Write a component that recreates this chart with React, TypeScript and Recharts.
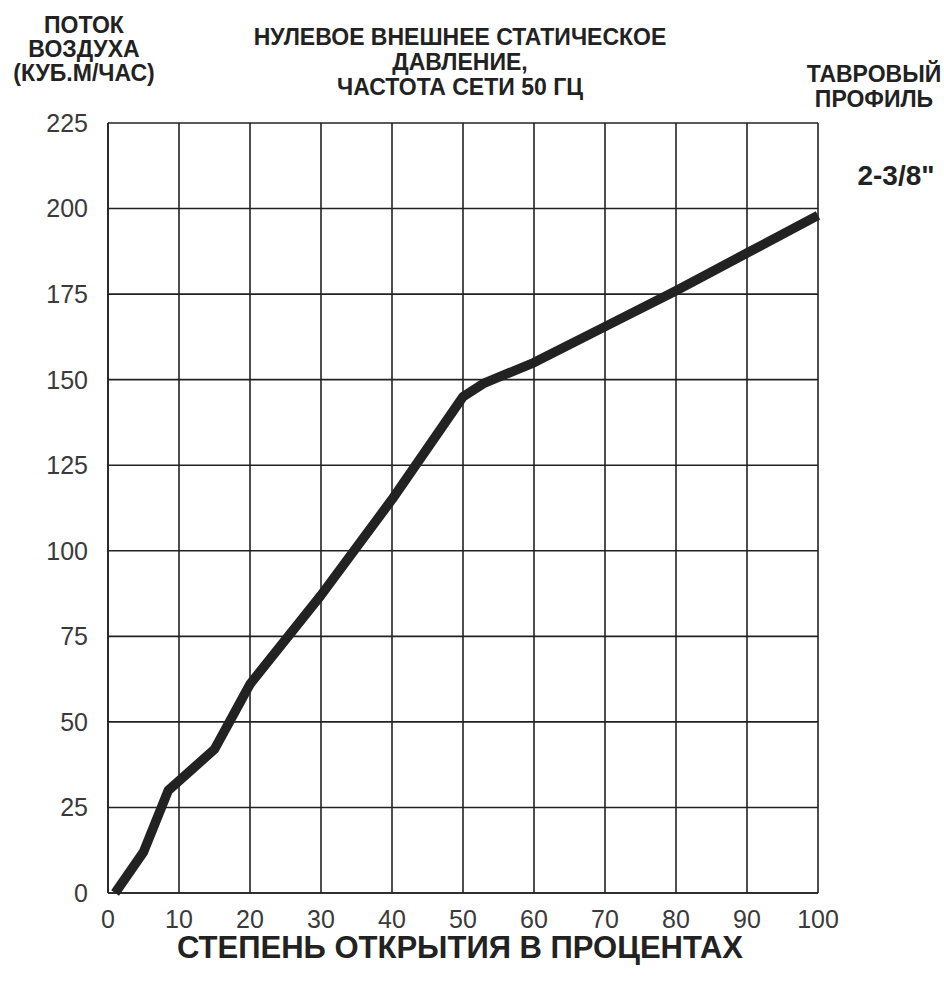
import { LineChart, Line, XAxis, YAxis, CartesianGrid } from 'recharts';

// Airflow vs. damper opening
const OPENING = [1, 5, 8.5, 15, 20, 30, 40, 50, 53, 60, 70, 80, 90, 100];
const AIRFLOW = [0, 12, 30, 42, 61, 87, 115, 145, 149, 155, 165.5, 176, 187, 198];
const X_TICKS = [0, 10, 20, 30, 40, 50, 60, 70, 80, 90, 100];
const Y_TICKS = [0, 25, 50, 75, 100, 125, 150, 175, 200, 225];

const Y_TITLE = ['ПОТОК', 'ВОЗДУХА', '(КУБ.М/ЧАС)'];
const TITLE = ['НУЛЕВОЕ ВНЕШНЕЕ СТАТИЧЕСКОЕ', 'ДАВЛЕНИЕ,', 'ЧАСТОТА СЕТИ 50 ГЦ'];
const SIDE = ['ТАВРОВЫЙ', 'ПРОФИЛЬ'];
const PROFILE = '2-3/8"';
const X_TITLE = 'СТЕПЕНЬ ОТКРЫТИЯ В ПРОЦЕНТАХ';

const data = OPENING.map((x, i) => ({ x, y: AIRFLOW[i] }));

const W = 944;
const H = 985;
const INK = '#222';
const FONT = '"Liberation Sans", Arial, sans-serif';
const TICK = { fill: '#3a3a3a', fontSize: 25, fontFamily: FONT };

export default function App() {
  return (
    <div style={{ position: 'absolute', left: 0, top: 0, width: W, height: H, background: '#fff' }}>
      <LineChart width={W} height={H} data={data} margin={{ top: 123, right: 126, bottom: 0, left: 0 }}>
        <CartesianGrid stroke={INK} strokeWidth={1.6} />
        <XAxis
          dataKey="x" type="number" domain={[0, 100]} ticks={X_TICKS} height={92}
          tick={TICK} tickLine={false} axisLine={{ stroke: INK, strokeWidth: 1.6 }} tickMargin={11}
        />
        <YAxis
          type="number" domain={[0, 225]} ticks={Y_TICKS} width={108}
          tick={TICK} tickLine={false} axisLine={{ stroke: INK, strokeWidth: 1.6 }} tickMargin={14}
        />
        <Line
          dataKey="y" type="linear" stroke={INK} strokeWidth={9.5} dot={false}
          strokeLinejoin="round" isAnimationActive={false}
        />
      </LineChart>
      {/* header / side / axis captions */}
      <svg width={W} height={H} style={{ position: 'absolute', left: 0, top: 0, pointerEvents: 'none' }}>
        <g fontFamily={FONT} fontWeight="bold" fill={INK} fontSize={23} textAnchor="middle">
          {Y_TITLE.map((t, i) => (
            <text key={t} x={84} y={33 + i * 24}>{t}</text>
          ))}
          {TITLE.map((t, i) => (
            <text key={t} x={460} y={45 + i * 25}>{t}</text>
          ))}
          {SIDE.map((t, i) => (
            <text key={t} x={874} y={82 + i * 25}>{t}</text>
          ))}
          <text x={896} y={185} fontSize={28}>{PROFILE}</text>
          <text x={460} y={958} fontSize={31}>{X_TITLE}</text>
        </g>
      </svg>
    </div>
  );
}
